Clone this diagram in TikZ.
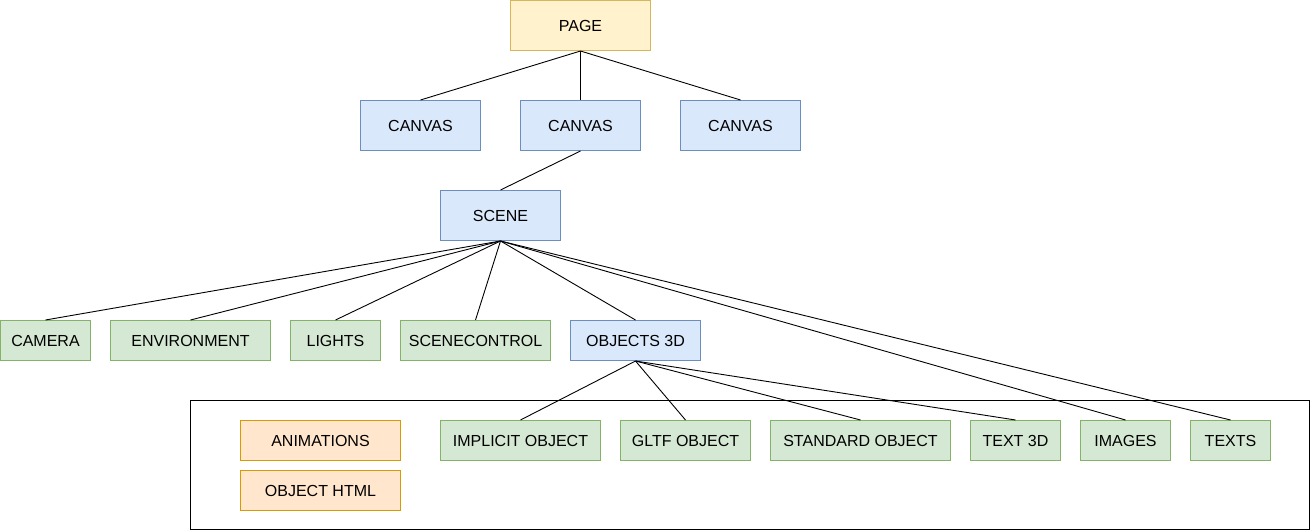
\documentclass[tikz,border=0pt]{standalone}
\usepackage{fontspec}
\setmainfont{Liberation Sans}
\begin{document}
\begin{tikzpicture}[x=1pt,y=-1pt,
  box/.style={draw, line width=1pt, minimum height=#1, inner sep=0pt, font=\fontsize{16}{19}\selectfont, anchor=center},
  yel/.style={box=50pt, fill=yellowfill, draw=yellowline},
  blu/.style={box=50pt, fill=bluefill, draw=blueline},
  blus/.style={box=40pt, fill=bluefill, draw=blueline},
  grn/.style={box=40pt, fill=greenfill, draw=greenline},
  org/.style={box=40pt, fill=orangefill, draw=orangeline},
  link/.style={draw=black, line width=0.9pt}]
\definecolor{yellowfill}{HTML}{FFF2CC}
\definecolor{yellowline}{HTML}{D6B656}
\definecolor{bluefill}{HTML}{DAE8FC}
\definecolor{blueline}{HTML}{6C8EBF}
\definecolor{greenfill}{HTML}{D5E8D4}
\definecolor{greenline}{HTML}{82B366}
\definecolor{orangefill}{HTML}{FFE6CC}
\definecolor{orangeline}{HTML}{D79B00}
\useasboundingbox (0,0) rectangle (1312,532);
\node[draw=black, line width=1pt, minimum width=1119pt, minimum height=129pt, inner sep=0pt] (frame) at (750,465) {};
\node[yel, minimum width=140pt] (page) at (580.5,25.5) {PAGE};
\node[blu, minimum width=120pt] (c1) at (420.5,125.5) {CANVAS};
\node[blu, minimum width=120pt] (c2) at (580.5,125.5) {CANVAS};
\node[blu, minimum width=120pt] (c3) at (740.5,125.5) {CANVAS};
\node[blu, minimum width=120pt] (scene) at (500.5,215.5) {SCENE};
\node[grn, minimum width=90pt] (camera) at (45.5,340.5) {CAMERA};
\node[grn, minimum width=160pt] (env) at (190.5,340.5) {ENVIRONMENT};
\node[grn, minimum width=90pt] (lights) at (335.5,340.5) {LIGHTS};
\node[grn, minimum width=150pt] (sc) at (475.5,340.5) {SCENECONTROL};
\node[blus, minimum width=130pt] (obj) at (635.5,340.5) {OBJECTS 3D};
\node[org, minimum width=160pt] (anim) at (320.5,440.5) {ANIMATIONS};
\node[org, minimum width=160pt] (html) at (320.5,490.5) {OBJECT HTML};
\node[grn, minimum width=160pt] (impl) at (520.5,440.5) {IMPLICIT OBJECT};
\node[grn, minimum width=130pt] (gltf) at (685.5,440.5) {GLTF OBJECT};
\node[grn, minimum width=180pt] (std) at (860.5,440.5) {STANDARD OBJECT};
\node[grn, minimum width=90pt] (t3d) at (1015.5,440.5) {TEXT 3D};
\node[grn, minimum width=90pt] (img) at (1125.5,440.5) {IMAGES};
\node[grn, minimum width=80pt] (texts) at (1230.5,440.5) {TEXTS};
\foreach \c in {c1,c2,c3} \draw[link] (page.south) -- (\c.north);
\draw[link] (c2.south) -- (scene.north);
\foreach \c in {camera,env,lights,sc,obj,img,texts} \draw[link] (scene.south) -- (\c.north);
\foreach \c in {impl,gltf,std,t3d} \draw[link] (obj.south) -- (\c.north);
\end{tikzpicture}
\end{document}
